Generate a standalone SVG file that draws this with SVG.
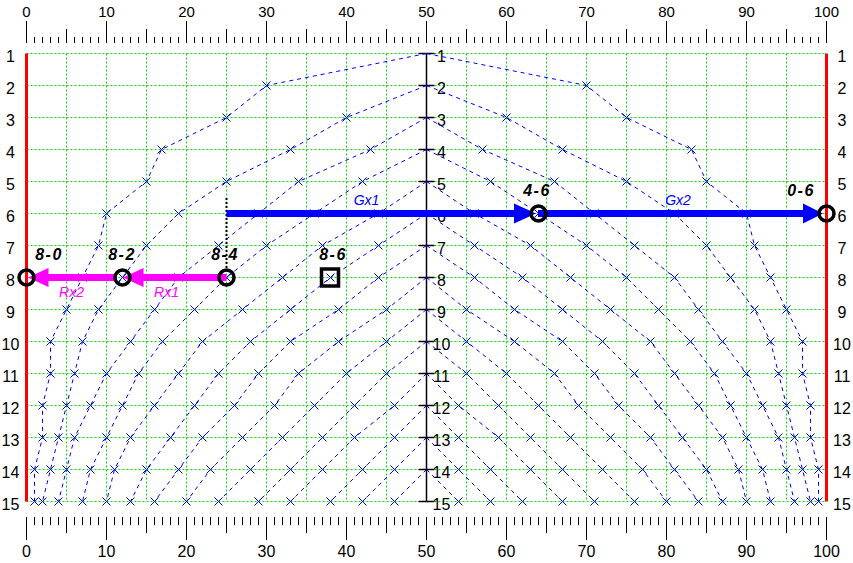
<svg xmlns="http://www.w3.org/2000/svg" xmlns:xlink="http://www.w3.org/1999/xlink" width="853" height="563" viewBox="0 0 853 563">
<style>
text{font-family:"Liberation Sans",Arial,sans-serif;fill:#000}
.ax{font-size:15px;text-anchor:middle}
.axb{font-size:16px;text-anchor:middle}
.rl{font-size:16px;text-anchor:middle}
.grid{stroke:#00e000;stroke-width:1;stroke-dasharray:2 2;fill:none}
.cv{fill:none;stroke:#0000ff;stroke-width:1;stroke-dasharray:4 4;marker-mid:url(#mx);marker-end:url(#mx)}
.tk{stroke:#000;fill:none}
.nl{font-size:16px;font-weight:bold;font-style:italic;text-anchor:middle;letter-spacing:1.5px}
.el{font-size:14px;font-style:italic;text-anchor:middle}
.eb{fill:#0000ff}
.em{fill:#ff00ff}
.nd{fill:none;stroke:#000;stroke-width:3.5}
</style>
<defs>
<marker id="mx" markerWidth="10" markerHeight="10" refX="5" refY="5" markerUnits="userSpaceOnUse" overflow="visible">
<path d="M1,1L9,9M1,9L9,1" stroke="#0000ff" stroke-width="1" stroke-dasharray="none" fill="none"/>
</marker>
</defs>
<rect width="853" height="563" fill="#fff"/>
<g id="grid">
<path class="grid" d="M26.5,53.5H826.5M26.5,85.5H826.5M26.5,117.5H826.5M26.5,149.5H826.5M26.5,181.5H826.5M26.5,213.5H826.5M26.5,245.5H826.5M26.5,277.5H826.5M26.5,309.5H826.5M26.5,341.5H826.5M26.5,373.5H826.5M26.5,405.5H826.5M26.5,437.5H826.5M26.5,469.5H826.5M26.5,501.5H826.5"/>
<path class="grid" d="M66.5,53.5V501.5M106.5,53.5V501.5M146.5,53.5V501.5M186.5,53.5V501.5M226.5,53.5V501.5M266.5,53.5V501.5M306.5,53.5V501.5M346.5,53.5V501.5M386.5,53.5V501.5M466.5,53.5V501.5M506.5,53.5V501.5M546.5,53.5V501.5M586.5,53.5V501.5M626.5,53.5V501.5M666.5,53.5V501.5M706.5,53.5V501.5M746.5,53.5V501.5M786.5,53.5V501.5"/>
<path d="M26.5,53.5V501.5M826.5,53.5V501.5" stroke="#ff0000" stroke-width="3" fill="none"/>
</g>
<g id="scales">
<line class="tk" x1="26" y1="40" x2="827" y2="40" stroke-width="6" stroke-dasharray="1 7"/>
<line class="tk" x1="66" y1="36" x2="827" y2="36" stroke-width="14" stroke-dasharray="1 79"/>
<line class="tk" x1="26" y1="32" x2="827" y2="32" stroke-width="22" stroke-dasharray="1 79"/>
<line class="tk" x1="26" y1="521" x2="827" y2="521" stroke-width="8" stroke-dasharray="1 7"/>
<line class="tk" x1="66" y1="525" x2="827" y2="525" stroke-width="16" stroke-dasharray="1 79"/>
<line class="tk" x1="26" y1="528.5" x2="827" y2="528.5" stroke-width="23" stroke-dasharray="1 79"/>
<g class="ax">
<text x="26.5" y="17">0</text><text x="106.5" y="17">10</text><text x="186.5" y="17">20</text><text x="266.5" y="17">30</text><text x="346.5" y="17">40</text><text x="426.5" y="17">50</text><text x="506.5" y="17">60</text><text x="586.5" y="17">70</text><text x="666.5" y="17">80</text><text x="746.5" y="17">90</text><text x="826.5" y="17">100</text>
</g>
<g class="axb">
<text x="26.5" y="557">0</text><text x="106.5" y="557">10</text><text x="186.5" y="557">20</text><text x="266.5" y="557">30</text><text x="346.5" y="557">40</text><text x="426.5" y="557">50</text><text x="506.5" y="557">60</text><text x="586.5" y="557">70</text><text x="666.5" y="557">80</text><text x="746.5" y="557">90</text><text x="826.5" y="557">100</text>
</g>
<g class="rl">
<text x="10.5" y="62">1</text><text x="10.5" y="94">2</text><text x="10.5" y="126">3</text><text x="10.5" y="158">4</text><text x="10.5" y="190">5</text><text x="10.5" y="222">6</text><text x="10.5" y="254">7</text><text x="10.5" y="286">8</text><text x="10.5" y="318">9</text><text x="10.5" y="350">10</text><text x="10.5" y="382">11</text><text x="10.5" y="414">12</text><text x="10.5" y="446">13</text><text x="10.5" y="478">14</text><text x="10.5" y="510">15</text>
<text x="842" y="62">1</text><text x="842" y="94">2</text><text x="842" y="126">3</text><text x="842" y="158">4</text><text x="842" y="190">5</text><text x="842" y="222">6</text><text x="842" y="254">7</text><text x="842" y="286">8</text><text x="842" y="318">9</text><text x="842" y="350">10</text><text x="842" y="382">11</text><text x="842" y="414">12</text><text x="842" y="446">13</text><text x="842" y="478">14</text><text x="842" y="510">15</text>
<text x="441.5" y="62">1</text><text x="441.5" y="94">2</text><text x="441.5" y="126">3</text><text x="441.5" y="158">4</text><text x="441.5" y="190">5</text><text x="441.5" y="222">6</text><text x="441.5" y="254">7</text><text x="441.5" y="286">8</text><text x="441.5" y="318">9</text><text x="441.5" y="350">10</text><text x="441.5" y="382">11</text><text x="441.5" y="414">12</text><text x="441.5" y="446">13</text><text x="441.5" y="478">14</text><text x="441.5" y="510">15</text>
</g>
<path d="M426.5,53.5V501.5" stroke="#000" stroke-width="1.5" fill="none"/>
<path class="tk" stroke-width="1.5" d="M418.5,53.5H434.5M418.5,85.5H434.5M418.5,117.5H434.5M418.5,149.5H434.5M418.5,181.5H434.5M418.5,213.5H434.5M418.5,245.5H434.5M418.5,277.5H434.5M418.5,309.5H434.5M418.5,341.5H434.5M418.5,373.5H434.5M418.5,405.5H434.5M418.5,437.5H434.5M418.5,469.5H434.5M418.5,501.5H434.5"/>
</g>
<g id="curves">
<g id="curvesL">
<polyline class="cv" points="426.5,53.5 266.5,85.5 226.5,117.5 161.5,149.5 146.5,181.5 106.5,213.5 98.5,245.5 82.5,277.5 66.5,309.5 50.5,341.5 50.5,373.5 42.5,405.5 42.5,437.5 34.5,469.5 34.5,501.5"/>
<polyline class="cv" points="426.5,85.5 346.5,117.5 290.5,149.5 226.5,181.5 178.5,213.5 146.5,245.5 122.5,277.5 98.5,309.5 82.5,341.5 74.5,373.5 66.5,405.5 58.5,437.5 50.5,469.5 42.5,501.5"/>
<polyline class="cv" points="426.5,117.5 370.5,149.5 298.5,181.5 258.5,213.5 218.5,245.5 178.5,277.5 154.5,309.5 130.5,341.5 106.5,373.5 90.5,405.5 74.5,437.5 66.5,469.5 58.5,501.5"/>
<polyline class="cv" points="426.5,149.5 362.5,181.5 314.5,213.5 266.5,245.5 226.5,277.5 194.5,309.5 162.5,341.5 138.5,373.5 122.5,405.5 106.5,437.5 90.5,469.5 82.5,501.5"/>
<polyline class="cv" points="426.5,181.5 378.5,213.5 322.5,245.5 282.5,277.5 242.5,309.5 202.5,341.5 178.5,373.5 154.5,405.5 130.5,437.5 114.5,469.5 106.5,501.5"/>
<polyline class="cv" points="426.5,213.5 378.5,245.5 330.5,277.5 290.5,309.5 250.5,341.5 218.5,373.5 194.5,405.5 170.5,437.5 146.5,469.5 130.5,501.5"/>
<polyline class="cv" points="426.5,245.5 378.5,277.5 338.5,309.5 290.5,341.5 258.5,373.5 234.5,405.5 202.5,437.5 178.5,469.5 154.5,501.5"/>
<polyline class="cv" points="426.5,277.5 386.5,309.5 338.5,341.5 298.5,373.5 274.5,405.5 242.5,437.5 210.5,469.5 186.5,501.5"/>
<polyline class="cv" points="426.5,309.5 386.5,341.5 346.5,373.5 314.5,405.5 282.5,437.5 250.5,469.5 218.5,501.5"/>
<polyline class="cv" points="426.5,341.5 386.5,373.5 354.5,405.5 322.5,437.5 290.5,469.5 258.5,501.5"/>
<polyline class="cv" points="426.5,373.5 394.5,405.5 354.5,437.5 322.5,469.5 290.5,501.5"/>
<polyline class="cv" points="426.5,405.5 394.5,437.5 362.5,469.5 330.5,501.5"/>
<polyline class="cv" points="426.5,437.5 394.5,469.5 362.5,501.5"/>
<polyline class="cv" points="426.5,469.5 394.5,501.5"/>
</g>
<use xlink:href="#curvesL" href="#curvesL" transform="matrix(-1 0 0 1 853 0)"/>
</g>
<g id="connectors">
<line x1="226.5" y1="198" x2="226.5" y2="270" stroke="#000" stroke-width="2" stroke-dasharray="2 2"/>
<g id="Gx1">
<line x1="226.5" y1="213.5" x2="517" y2="213.5" stroke="#0000ff" stroke-width="7"/>
<polygon points="514,203.5 536,213.5 514,223.5" fill="#0000ff"/>
<text class="el eb" x="366.5" y="205">Gx1</text>
</g>
<g id="Gx2">
<line x1="538" y1="213.5" x2="806" y2="213.5" stroke="#0000ff" stroke-width="7"/>
<polygon points="803,203.5 823,213.5 803,223.5" fill="#0000ff"/>
<text class="el eb" x="678" y="205">Gx2</text>
</g>
<g id="Rx1">
<line x1="226.5" y1="277.5" x2="141" y2="277.5" stroke="#ff00ff" stroke-width="7"/>
<polygon points="143.5,268 123,277.5 143.5,287" fill="#ff00ff"/>
<text class="el em" x="166.5" y="297">Rx1</text>
</g>
<g id="Rx2">
<line x1="115" y1="277.5" x2="46" y2="277.5" stroke="#ff00ff" stroke-width="7"/>
<polygon points="48.5,268 28,277.5 48.5,287" fill="#ff00ff"/>
<text class="el em" x="71.5" y="297">Rx2</text>
</g>
</g>
<g id="node-8-0"><circle class="nd" cx="26.5" cy="277.5" r="7.5"/><text class="nl" x="49" y="260">8-0</text></g>
<g id="node-8-2"><circle class="nd" cx="122.5" cy="277.5" r="7.5"/><text class="nl" x="122" y="260">8-2</text></g>
<g id="node-8-4"><circle class="nd" cx="226.5" cy="277.5" r="7.5"/><text class="nl" x="225" y="260">8-4</text></g>
<g id="node-8-6"><rect class="nd" x="321.5" y="269" width="17" height="17" stroke-width="3"/><text class="nl" x="333" y="260">8-6</text></g>
<g id="node-4-6"><circle class="nd" cx="538.5" cy="213.5" r="7.5"/><text class="nl" x="537" y="196">4-6</text></g>
<g id="node-0-6"><circle class="nd" cx="826.5" cy="213.5" r="7.5"/><text class="nl" x="801" y="196">0-6</text></g>
</svg>
